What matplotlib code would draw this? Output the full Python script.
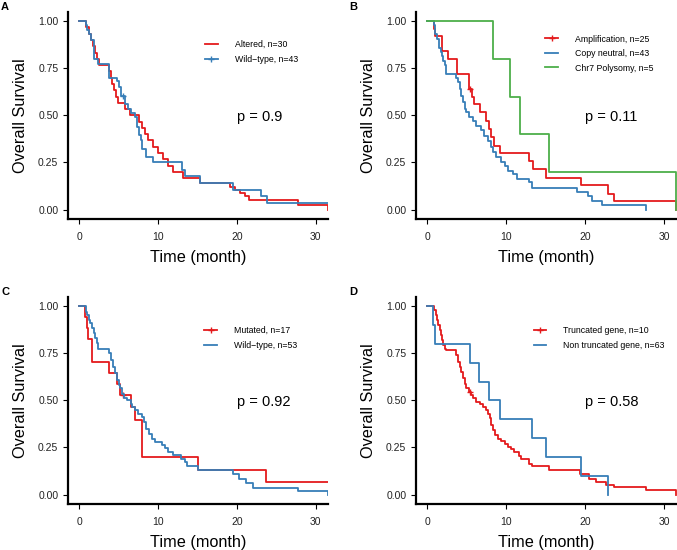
import numpy as np
import matplotlib
matplotlib.use("Agg")
import matplotlib.pyplot as plt
from matplotlib.lines import Line2D

plt.rcParams['font.family'] = ['Liberation Sans', 'DejaVu Sans']

RED = '#E41A1C'
BLUE = '#377EB8'
GREEN = '#4DAF4A'

xticks = [0, 10, 20, 30]
yticks = [0.0, 0.25, 0.5, 0.75, 1.0]
ytick_labels = ['0.00', '0.25', '0.50', '0.75', '1.00']
xlabel = 'Time (month)'
ylabel = 'Overall Survival'

# ---------------- Panel A ----------------
A_alt_t = [0, 0.8, 1.2, 1.5, 1.7, 2.0, 2.2, 2.5, 3.8, 4.0, 4.2, 4.4, 4.6, 4.9, 5.8, 6.4, 7.6, 8.0, 8.3, 8.7,
           9.4, 10.0, 10.6, 11.3, 11.9, 13.2, 15.3, 19.1, 19.8, 20.4, 21.0, 21.5, 27.8, 31.5]
A_alt_s = [1.0, 0.967, 0.933, 0.90, 0.867, 0.833, 0.80, 0.767, 0.733, 0.70, 0.667, 0.633, 0.60, 0.567, 0.533,
           0.50, 0.467, 0.433, 0.40, 0.367, 0.333, 0.30, 0.267, 0.233, 0.20, 0.167, 0.141, 0.12, 0.106, 0.088,
           0.07, 0.049, 0.023, 0.0]
A_alt_end = 31.5
A_alt_cens = []
A_wt_t = [0, 0.8, 1.0, 1.2, 1.5, 1.8, 2.3, 3.8, 4.8, 5.0, 5.3, 5.8, 6.2, 6.6, 7.0, 7.3, 7.6, 7.8, 8.0, 8.5,
          9.3, 13.0, 13.4, 15.3, 19.5, 23.1, 23.8]
A_wt_s = [1.0, 0.977, 0.953, 0.93, 0.90, 0.80, 0.77, 0.70, 0.68, 0.65, 0.605, 0.56, 0.535, 0.51, 0.49, 0.44,
          0.395, 0.37, 0.32, 0.28, 0.25, 0.21, 0.176, 0.141, 0.106, 0.07, 0.035]
A_wt_end = 31.7
A_wt_cens = [5.5]
A_labels = ['Altered, n=30', 'Wild\u2212type, n=43']
A_pval = 'p = 0.9'

# ---------------- Panel B ----------------
B_amp_t = [0, 0.8, 1.0, 1.8, 2.6, 3.8, 5.3, 5.7, 5.9, 6.6, 7.4, 7.8, 8.0, 8.4, 9.2, 12.9, 13.4, 15.0, 19.5,
           22.8, 23.6, 31.5]
B_amp_s = [1.0, 0.96, 0.92, 0.84, 0.80, 0.72, 0.64, 0.60, 0.56, 0.516, 0.47, 0.43, 0.385, 0.34, 0.30, 0.256,
           0.213, 0.17, 0.128, 0.085, 0.043, 0.0]
B_amp_end = 31.5
B_amp_cens = [5.45]
B_cn_t = [0, 0.8, 0.9, 1.0, 1.2, 1.4, 1.5, 1.7, 1.9, 2.0, 2.2, 2.3, 2.4, 3.6, 3.9, 4.1, 4.3, 4.5, 4.7, 4.9,
          5.3, 5.8, 6.2, 6.8, 7.2, 7.7, 8.1, 8.3, 8.7, 9.3, 9.8, 10.2, 10.8, 11.4, 12.9, 13.3, 18.9, 20.3,
          20.8, 22.1, 27.7]
B_cn_s = [1.0, 0.977, 0.953, 0.93, 0.907, 0.884, 0.86, 0.837, 0.814, 0.79, 0.767, 0.744, 0.72, 0.70, 0.675,
          0.64, 0.604, 0.57, 0.534, 0.516, 0.49, 0.472, 0.446, 0.42, 0.393, 0.366, 0.33, 0.304, 0.277, 0.25,
          0.23, 0.206, 0.189, 0.162, 0.145, 0.116, 0.093, 0.07, 0.047, 0.023, 0.0]
B_cn_end = 27.7
B_cn_cens = []
B_poly_t = [0, 8.3, 10.5, 11.7, 15.4, 31.5]
B_poly_s = [1.0, 0.8, 0.6, 0.4, 0.2, 0.0]
B_poly_end = 31.5
B_poly_cens = []
B_labels = ['Amplification, n=25', 'Copy neutral, n=43', 'Chr7 Polysomy, n=5']
B_pval = 'p = 0.11'

# ---------------- Panel C ----------------
C_mut_t = [0, 0.76, 0.97, 1.1, 1.6, 3.7, 4.8, 5.2, 6.6, 7.0, 7.9, 15.1, 23.7]
C_mut_s = [1.0, 0.941, 0.882, 0.824, 0.706, 0.647, 0.588, 0.529, 0.463, 0.397, 0.198, 0.132, 0.066]
C_mut_end = 31.7
C_mut_cens = [5.5]
C_wt_t = [0, 0.85, 1.0, 1.2, 1.4, 1.6, 1.8, 2.0, 2.25, 2.4, 3.8, 4.05, 4.25, 4.5, 4.8, 5.0, 5.2, 5.4, 5.6,
          6.05, 6.5, 6.7, 7.1, 7.5, 7.95, 8.2, 8.45, 8.8, 9.2, 9.65, 10.5, 10.9, 11.3, 11.9, 12.9, 13.4, 13.6,
          15.1, 19.5, 20.3, 21.1, 22.0, 27.8, 31.5]
C_wt_s = [1.0, 0.97, 0.952, 0.926, 0.908, 0.882, 0.855, 0.829, 0.802, 0.775, 0.749, 0.713, 0.678, 0.643,
          0.607, 0.581, 0.563, 0.536, 0.51, 0.50, 0.482, 0.465, 0.448, 0.43, 0.412, 0.386, 0.35, 0.324, 0.297,
          0.28, 0.262, 0.245, 0.227, 0.209, 0.191, 0.172, 0.149, 0.132, 0.107, 0.085, 0.062, 0.037, 0.018, 0.0]
C_wt_end = 31.5
C_wt_cens = []
C_labels = ['Mutated, n=17', 'Wild\u2212type, n=53']
C_pval = 'p = 0.92'

# ---------------- Panel D ----------------
D_tr_t = [0, 0.8, 1.05, 1.22, 1.38, 1.55, 1.68, 1.8, 1.97, 2.18, 2.4, 3.66, 3.91, 4.08, 4.29, 4.5, 4.71,
          4.92, 5.26, 5.55, 5.76, 6.18, 6.6, 7.02, 7.44, 7.66, 7.87, 8.08, 8.29, 8.5, 8.92, 9.34, 9.76, 10.2,
          10.6, 11.0, 11.6, 11.9, 12.9, 13.3, 15.4, 19.3, 20.4, 21.4, 22.6, 23.6, 27.7, 31.5]
D_tr_s = [1.0, 0.979, 0.952, 0.926, 0.899, 0.873, 0.846, 0.82, 0.793, 0.775, 0.766, 0.74, 0.705, 0.678,
          0.648, 0.616, 0.589, 0.563, 0.545, 0.527, 0.51, 0.492, 0.483, 0.465, 0.448, 0.425, 0.404, 0.368,
          0.342, 0.315, 0.297, 0.283, 0.271, 0.253, 0.24, 0.225, 0.207, 0.19, 0.163, 0.15, 0.133, 0.108,
          0.085, 0.067, 0.05, 0.038, 0.025, 0.0]
D_tr_end = 31.5
D_tr_cens = [5.4]
D_nt_t = [0, 0.75, 0.95, 5.4, 6.55, 7.8, 9.25, 13.3, 15.0, 19.5, 22.9]
D_nt_s = [1.0, 0.9, 0.8, 0.7, 0.6, 0.5, 0.4, 0.3, 0.2, 0.1, 0.0]
D_nt_end = 22.9
D_nt_cens = []
D_labels = ['Truncated gene, n=10', 'Non truncated gene, n=63']
D_pval = 'p = 0.58'

W, H = 677, 550
fig = plt.figure(figsize=(W / 100, H / 100), dpi=100)


def px_rect(l, t, r, b):
    return [l / W, 1 - b / H, (r - l) / W, (b - t) / H]


panels = [
    dict(letter='A', lpos=(1, 2), rect=px_rect(68, 11.7, 328.3, 219),
         curves=[(A_alt_t, A_alt_s, A_alt_end, A_alt_cens, RED),
                 (A_wt_t, A_wt_s, A_wt_end, A_wt_cens, BLUE)],
         labels=A_labels, pval=A_pval, leg=(0.526, 0.862)),
    dict(letter='B', lpos=(349, 2), rect=px_rect(416, 11.7, 677, 219),
         curves=[(B_amp_t, B_amp_s, B_amp_end, B_amp_cens, RED),
                 (B_cn_t, B_cn_s, B_cn_end, B_cn_cens, BLUE),
                 (B_poly_t, B_poly_s, B_poly_end, B_poly_cens, GREEN)],
         labels=B_labels, pval=B_pval, leg=(0.495, 0.89)),
    dict(letter='C', lpos=(1, 287), rect=px_rect(68, 296.7, 328.3, 504),
         curves=[(C_mut_t, C_mut_s, C_mut_end, C_mut_cens, RED),
                 (C_wt_t, C_wt_s, C_wt_end, C_wt_cens, BLUE)],
         labels=C_labels, pval=C_pval, leg=(0.524, 0.858)),
    dict(letter='D', lpos=(349, 287), rect=px_rect(416, 296.7, 677, 504),
         curves=[(D_tr_t, D_tr_s, D_tr_end, D_tr_cens, RED),
                 (D_nt_t, D_nt_s, D_nt_end, D_nt_cens, BLUE)],
         labels=D_labels, pval=D_pval, leg=(0.451, 0.858)),
]

for p in panels:
    ax = fig.add_axes(p['rect'])
    handles = []
    for (t, s, end, cens, col) in p['curves']:
        x = list(t)
        y = list(s)
        if end > t[-1]:
            x.append(end)
            y.append(s[-1])
        ax.step(x, y, where='post', color=col, lw=1.3, clip_on=True)
        if cens:
            ct = np.array(cens)
            idx = np.searchsorted(np.array(t), ct, side='right') - 1
            cs = np.array(s)[idx]
            ax.plot(ct, cs, ls='none', marker='+', ms=5, mew=1.0, color=col)
        handles.append(Line2D([], [], color=col, lw=1.3,
                              marker='+' if cens else None, ms=5, mew=1.0))
    ax.set_xlim(-1.45, 31.6)
    ax.set_ylim(-0.05, 1.05)
    ax.set_xticks(xticks)
    ax.set_yticks(yticks)
    ax.set_yticklabels(ytick_labels)
    for side in ('top', 'right'):
        ax.spines[side].set_visible(False)
    for side in ('left', 'bottom'):
        ax.spines[side].set_linewidth(1.6)
        ax.spines[side].set_color('black')
    ax.tick_params(axis='both', direction='out', length=3.4, width=0.8, colors='black',
                   labelsize=7.5, labelcolor='#222222')
    ax.tick_params(axis='x', pad=6.0)
    ax.tick_params(axis='y', pad=3.6)
    ax.set_xlabel(xlabel, fontsize=11.7)
    ax.set_ylabel(ylabel, fontsize=11.7)
    ax.xaxis.set_label_coords(0.5, -0.148)
    ax.yaxis.set_label_coords(-0.155, 0.5)
    ax.text(20.0, 0.49, p['pval'], fontsize=10.5, ha='left', va='center')
    ax.legend(handles, p['labels'], loc='upper left', bbox_to_anchor=p['leg'],
              frameon=False, fontsize=6.3, handlelength=1.45, handletextpad=1.95,
              labelspacing=0.63, borderpad=0, borderaxespad=0)
    fig.text(p['lpos'][0] / W, 1 - p['lpos'][1] / H, p['letter'], fontsize=8,
             fontweight='bold', ha='left', va='top')

fig.savefig('out.png', dpi=100)
